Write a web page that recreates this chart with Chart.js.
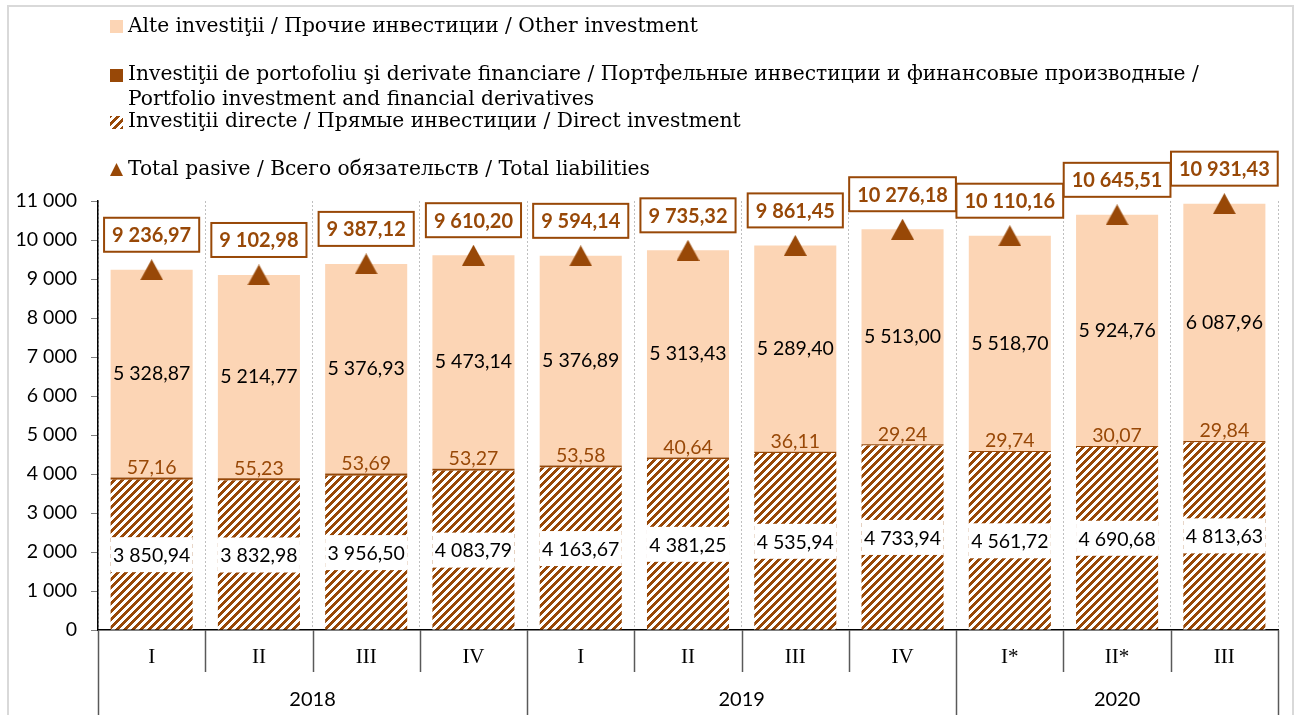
<!DOCTYPE html>
<html><head><meta charset="utf-8">
<script src="https://cdn.jsdelivr.net/npm/chart.js@4.4.1/dist/chart.umd.min.js"></script>
<style>html,body{margin:0;padding:0;background:#fff}#wrap{position:relative;width:1299px;height:715px}</style>
</head><body><div id="wrap"><canvas id="c"></canvas></div>
<script>
const quarters = ['I','II','III','IV','I','II','III','IV','I*','II*','III'];
const years = ['2018','2019','2020'];
const yearSpans = [4,4,3];
const directInvestment = [3850.94,3832.98,3956.50,4083.79,4163.67,4381.25,4535.94,4733.94,4561.72,4690.68,4813.63];
const portfolioInvestment = [57.16,55.23,53.69,53.27,53.58,40.64,36.11,29.24,29.74,30.07,29.84];
const otherInvestment = [5328.87,5214.77,5376.93,5473.14,5376.89,5313.43,5289.40,5513.00,5518.70,5924.76,6087.96];
const totalLiabilities = [9236.97,9102.98,9387.12,9610.20,9594.14,9735.32,9861.45,10276.18,10110.16,10645.51,10931.43];
const legendOther = 'Alte investiţii / Прочие инвестиции / Other investment';
const legendPortfolio1 = 'Investiţii de portofoliu şi derivate financiare / Портфельные инвестиции и финансовые производные /';
const legendPortfolio2 = 'Portfolio investment and financial derivatives';
const legendDirect = 'Investiţii directe / Прямые инвестиции / Direct investment';
const legendTotal = 'Total pasive / Всего обязательств / Total liabilities';

const BROWN = '#984807';
const PEACH = '#FCD5B5';
const SANS = 'Lato';
const SERIF = 'DejaVu Serif';

function fmt(v, dec){
  const s = v.toFixed(dec);
  const parts = s.split('.');
  const i = parts[0].replace(/\B(?=(\d{3})+(?!\d))/g, ' ');
  return dec ? i + ',' + parts[1] : i;
}
function makeHatch(ctx){
  const c = document.createElement('canvas'); c.width = c.height = 8;
  const x = c.getContext('2d');
  x.fillStyle = '#fff'; x.fillRect(0,0,8,8);
  x.fillStyle = BROWN;
  for (let i=0;i<8;i++) for (let j=0;j<8;j++) if ((i+j)%8 < 4) x.fillRect(i,j,1,1);
  return ctx.createPattern(c,'repeat');
}
function makeTri(w,h){
  const c = document.createElement('canvas'); c.width=w; c.height=h;
  const x = c.getContext('2d');
  x.fillStyle = BROWN; x.beginPath(); x.moveTo(w/2,0); x.lineTo(w,h); x.lineTo(0,h); x.closePath(); x.fill();
  return c;
}
const canvas = document.getElementById('c');
const cx = canvas.getContext('2d');
const hatch = makeHatch(cx);
const tri = makeTri(23,21);

// legend font size chosen so the first legend line spans ~570px as in the reference
cx.font = '20px "' + SERIF + '"';
const legendSize = Math.min(22, 20 * 570 / cx.measureText(legendOther).width);

const decor = {
  id:'decor',
  beforeDraw(chart){
    const ctx = chart.ctx;
    ctx.save();
    ctx.strokeStyle = '#d9d9d9'; ctx.lineWidth = 2;
    ctx.beginPath(); ctx.moveTo(8,715); ctx.lineTo(8,6); ctx.lineTo(1293,6); ctx.lineTo(1293,715); ctx.stroke();
    ctx.textBaseline = 'middle'; ctx.textAlign = 'left';
    ctx.font = legendSize.toFixed(2) + 'px "' + SERIF + '"';
    const tx = 128;
    ctx.fillStyle = PEACH; ctx.fillRect(110,20,13,13);
    ctx.fillStyle = '#000'; ctx.fillText(legendOther, tx, 27);
    ctx.fillStyle = BROWN; ctx.fillRect(110,69,13,13);
    ctx.fillStyle = '#000'; ctx.fillText(legendPortfolio1, tx, 75); ctx.fillText(legendPortfolio2, tx, 100);
    ctx.fillStyle = hatch; ctx.fillRect(110,116,13,13);
    ctx.fillStyle = '#000'; ctx.fillText(legendDirect, tx, 122);
    ctx.fillStyle = BROWN; ctx.beginPath(); ctx.moveTo(116.5,163); ctx.lineTo(123,176); ctx.lineTo(110,176); ctx.closePath(); ctx.fill();
    ctx.fillStyle = '#000'; ctx.fillText(legendTotal, tx, 170);
    ctx.restore();
  },
  afterDatasetsDraw(chart){
    const ctx = chart.ctx;
    const mD = chart.getDatasetMeta(0), mP = chart.getDatasetMeta(1), mO = chart.getDatasetMeta(2), mT = chart.getDatasetMeta(3);
    ctx.save();
    ctx.textAlign = 'center'; ctx.textBaseline = 'middle';
    for (let i=0;i<quarters.length;i++){
      const d = mD.data[i].getProps(['x','y','base','width'], true);
      const cy = (d.y + d.base)/2;
      ctx.fillStyle = '#fff';
      ctx.fillRect(d.x - d.width/2, cy - 17.5, d.width, 35);
      ctx.fillStyle = '#000'; ctx.font = '19.5px ' + SANS;
      ctx.fillText(fmt(directInvestment[i],2), d.x, cy + 1);
      const p = mP.data[i].getProps(['x','y','base','width'], true);
      ctx.fillStyle = BROWN;
      ctx.fillText(fmt(portfolioInvestment[i],2), p.x, p.y - 10);
      const o = mO.data[i].getProps(['x','y','base','width'], true);
      ctx.fillStyle = '#000';
      ctx.fillText(fmt(otherInvestment[i],2), o.x, (o.y + o.base)/2);
      const t = mT.data[i].getProps(['x','y'], true);
      const label = fmt(totalLiabilities[i],2);
      ctx.font = 'bold 20px ' + SANS;
      const w = ctx.measureText(label).width + 16;
      const by = t.y - 35;
      ctx.fillStyle = '#fff'; ctx.fillRect(t.x - w/2, by - 17, w, 34);
      ctx.strokeStyle = BROWN; ctx.lineWidth = 2; ctx.strokeRect(t.x - w/2, by - 17, w, 34);
      ctx.fillStyle = BROWN; ctx.fillText(label, t.x, by + 1);
    }
    ctx.restore();
  },
  afterDraw(chart){
    const ctx = chart.ctx, xs = chart.scales.x, area = chart.chartArea;
    const step = xs.getPixelForValue(1) - xs.getPixelForValue(0);
    const bnd = i => xs.getPixelForValue(0) - step/2 + i*step;
    const yearB = [0]; let acc = 0; yearSpans.forEach(s => { acc += s; yearB.push(acc); });
    ctx.save();
    ctx.strokeStyle = '#595959'; ctx.lineWidth = 1.5;
    for (let i=0;i<=quarters.length;i++){
      const x = Math.round(bnd(i)) + 0.5;
      ctx.beginPath(); ctx.moveTo(x, area.bottom); ctx.lineTo(x, yearB.includes(i) ? 715 : 672); ctx.stroke();
    }
    ctx.fillStyle = '#000'; ctx.font = '20px ' + SANS; ctx.textAlign = 'center'; ctx.textBaseline = 'middle';
    for (let k=0;k<years.length;k++){
      ctx.fillText(years[k], (bnd(yearB[k]) + bnd(yearB[k+1]))/2, 700);
    }
    ctx.restore();
  }
};

new Chart(canvas, {
  data: {
    labels: quarters,
    datasets: [
      {type:'bar', label:legendDirect, data:directInvestment, backgroundColor:hatch, order:1, stack:'s'},
      {type:'bar', label:legendPortfolio1, data:portfolioInvestment, backgroundColor:BROWN, order:1, stack:'s'},
      {type:'bar', label:legendOther, data:otherInvestment, backgroundColor:PEACH, order:1, stack:'s'},
      {type:'line', label:legendTotal, data:totalLiabilities, showLine:false, pointStyle:tri, pointRadius:11, pointHoverRadius:11, order:0, clip:false}
    ]
  },
  options: {
    responsive:true, maintainAspectRatio:false, animation:false,
    layout:{padding:{left:0,right:21,top:201,bottom:0}},
    datasets:{bar:{categoryPercentage:1, barPercentage:0.765}},
    plugins:{legend:{display:false}, tooltip:{enabled:false}},
    scales:{
      x:{stacked:true, grid:{offset:true, color:'#bfbfbf', lineWidth:1, drawTicks:false, drawOnChartArea:true},
         border:{display:true, color:'#000', width:1.5, dash:[2,2]},
         ticks:{font:{family:'Liberation Serif', size:21}, color:'#000', padding:15},
         afterFit:s=>{s.height=85;}},
      y:{stacked:true, min:0, max:11000,
         ticks:{stepSize:1000, callback:v=>fmt(v,0), font:{family:SANS,size:19.5}, color:'#000', padding:14},
         grid:{drawOnChartArea:false, drawTicks:true, tickLength:7, tickColor:'#808080'},
         border:{display:true, color:'#000', width:1.5},
         afterFit:s=>{s.width=98;}}
    }
  },
  plugins:[decor]
});
</script></body></html>
